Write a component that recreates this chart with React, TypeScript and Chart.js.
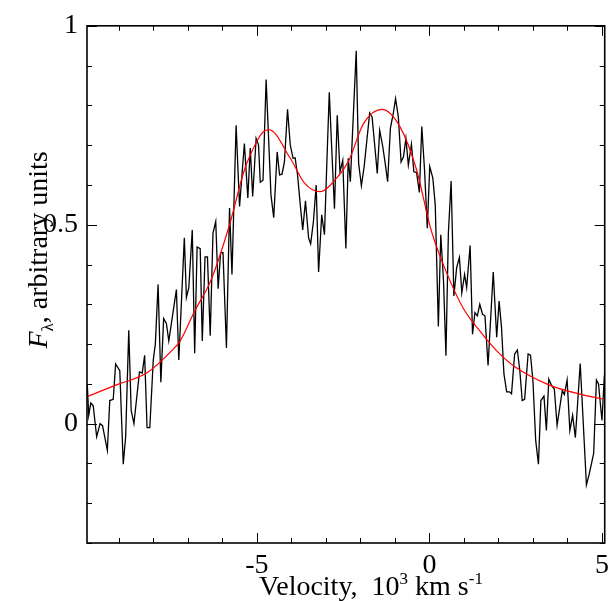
import React, { useEffect, useRef } from "react";
import { Chart, registerables } from "chart.js";

Chart.register(...registerables);

// Observed line profile: velocity (10^3 km/s) and flux (arbitrary units)
const velocity = [
  -9.91, -9.87, -9.81, -9.74, -9.64, -9.54, -9.47, -9.33, -9.26, -9.16,
  -9.09, -8.97, -8.87, -8.8, -8.71, -8.64, -8.56, -8.4, -8.32, -8.25,
  -8.18, -8.1, -8.0, -7.94, -7.86, -7.78, -7.7, -7.62, -7.55, -7.33,
  -7.26, -7.1, -7.04, -6.97, -6.87, -6.8, -6.73, -6.64, -6.58, -6.5,
  -6.43, -6.35, -6.27, -6.19, -6.12, -6.05, -5.98, -5.88, -5.79, -5.72,
  -5.6, -5.5, -5.36, -5.26, -5.19, -5.12, -5.02, -4.95, -4.9, -4.82,
  -4.73, -4.59, -4.51, -4.41, -4.34, -4.27, -4.2, -4.11, -4.03, -3.95,
  -3.89, -3.82, -3.74, -3.67, -3.59, -3.5, -3.44, -3.36, -3.28, -3.21,
  -3.12, -3.04, -2.97, -2.9, -2.83, -2.75, -2.67, -2.59, -2.51, -2.42,
  -2.35, -2.29, -2.12, -2.05, -1.97, -1.89, -1.73, -1.66, -1.58, -1.51,
  -1.44, -1.35, -1.28, -1.21, -1.13, -1.04, -0.98, -0.9, -0.82, -0.75,
  -0.68, -0.61, -0.52, -0.45, -0.37, -0.29, -0.22, -0.14, -0.06, 0.01,
  0.1, 0.17, 0.26, 0.33, 0.41, 0.48, 0.55, 0.63, 0.71, 0.79,
  0.87, 0.94, 1.02, 1.08, 1.18, 1.25, 1.32, 1.39, 1.46, 1.54,
  1.61, 1.7, 1.85, 1.95, 2.02, 2.09, 2.16, 2.24, 2.32, 2.38,
  2.47, 2.55, 2.62, 2.69, 2.76, 2.86, 2.93, 3.0, 3.08, 3.16,
  3.23, 3.32, 3.39, 3.46, 3.54, 3.62, 3.7, 3.85, 3.91, 3.99,
  4.07, 4.15, 4.23, 4.37, 4.55, 4.63, 4.76, 4.84, 4.9, 5.0,
  5.07,
];
const flux = [
  0.096, 0.021, 0.052, 0.045, -0.033, 0.0, -0.005, -0.067, 0.058, 0.061,
  0.15, 0.133, -0.102, -0.033, 0.235, 0.033, 0.0, 0.13, 0.127, 0.172,
  -0.01, -0.01, 0.16, 0.2, 0.35, 0.104, 0.264, 0.252, 0.208, 0.337,
  0.16, 0.467, 0.317, 0.342, 0.487, 0.177, 0.444, 0.44, 0.208, 0.419,
  0.419, 0.221, 0.479, 0.508, 0.339, 0.429, 0.43, 0.19, 0.542, 0.375,
  0.75, 0.546, 0.704, 0.567, 0.693, 0.571, 0.717, 0.7, 0.607, 0.612,
  0.865, 0.575, 0.518, 0.683, 0.625, 0.627, 0.658, 0.79, 0.7, 0.667,
  0.668, 0.625, 0.55, 0.487, 0.56, 0.467, 0.452, 0.508, 0.6, 0.381,
  0.525, 0.475, 0.658, 0.833, 0.692, 0.54, 0.775, 0.633, 0.662, 0.44,
  0.667, 0.608, 0.937, 0.654, 0.598, 0.646, 0.781, 0.771, 0.696, 0.629,
  0.737, 0.696, 0.654, 0.608, 0.742, 0.783, 0.817, 0.771, 0.658, 0.671,
  0.717, 0.65, 0.702, 0.633, 0.631, 0.581, 0.747, 0.637, 0.491, 0.646,
  0.617, 0.55, 0.244, 0.475, 0.358, 0.171, 0.479, 0.61, 0.321, 0.392,
  0.418, 0.329, 0.375, 0.342, 0.448, 0.225, 0.279, 0.271, 0.3, 0.275,
  0.271, 0.146, 0.381, 0.217, 0.308, 0.242, 0.125, 0.08, 0.08, 0.075,
  0.175, 0.185, 0.133, 0.058, 0.061, 0.175, 0.172, 0.108, -0.042, -0.102,
  0.058, 0.069, -0.017, 0.112, 0.096, 0.087, -0.004, 0.083, 0.073, 0.11,
  -0.017, 0.021, -0.035, 0.151, -0.154, -0.127, -0.075, 0.11, 0.1, 0.008,
  0.121,
];

// Two-component model profile
const fitVelocity = [
  -9.92, -9.05, -8.18, -7.47, -7.22, -6.8, -6.32, -5.79, -5.36, -4.99,
  -4.82, -4.65, -4.03, -3.61, -3.17, -2.69, -2.34, -1.91, -1.38, -0.85,
  -0.37, 0.02, 0.17, 0.5, 0.98, 1.46, 1.95, 2.5, 3.46, 4.42, 5.08,
];
const fitFlux = [
  0.068, 0.098, 0.128, 0.183, 0.208, 0.283, 0.3625, 0.5, 0.6375, 0.711,
  0.733, 0.739, 0.667, 0.604, 0.583, 0.617, 0.66, 0.754, 0.79, 0.746,
  0.6375, 0.496, 0.454, 0.379, 0.29, 0.233, 0.183, 0.1415, 0.0975, 0.073, 0.061,
];

const xTickValues = [-5, 0, 5];
const yTickValues = [0, 0.5, 1];
const X_MIN = -9.92;
const X_MAX = 5.08;
const Y_MIN = -0.3;
const Y_MAX = 1.0;

const SERIF = "'Liberation Serif', 'Times New Roman', serif";
const FONT_SIZE = 28;

const frameAndTicks = {
  id: "frameAndTicks",
  afterDatasetsDraw(chart: any) {
    const { ctx, chartArea, scales } = chart;
    const { left, right, top, bottom } = chartArea;
    const xs = scales.x;
    const ys = scales.y;
    ctx.save();
    ctx.strokeStyle = "#000";
    ctx.lineWidth = 1;
    ctx.beginPath();
    for (let v = Math.ceil(X_MIN); v <= X_MAX + 1e-9; v += 1) {
      const px = Math.round(xs.getPixelForValue(v)) + 0.5;
      const len = xTickValues.includes(v) ? 10 : 5;
      ctx.moveTo(px, bottom);
      ctx.lineTo(px, bottom - len);
      ctx.moveTo(px, top);
      ctx.lineTo(px, top + len);
    }
    for (let k = Math.round(Y_MIN * 10); k <= Math.round(Y_MAX * 10); k++) {
      const v = k / 10;
      const py = Math.round(ys.getPixelForValue(v)) + 0.5;
      const major = yTickValues.some((t) => Math.abs(t - v) < 1e-9);
      const len = major ? 10 : 5;
      ctx.moveTo(left, py);
      ctx.lineTo(left + len, py);
      ctx.moveTo(right, py);
      ctx.lineTo(right - len, py);
    }
    ctx.stroke();
    ctx.lineWidth = 1.6;
    ctx.strokeRect(left, top, right - left, bottom - top);
    ctx.restore();
  },
};

const axisTitles = {
  id: "axisTitles",
  afterDraw(chart: any) {
    const { ctx } = chart;
    ctx.save();
    ctx.fillStyle = "#000";
    ctx.textBaseline = "alphabetic";

    // x-axis title with superscripts
    const big = `${FONT_SIZE}px ${SERIF}`;
    const small = `${Math.round(FONT_SIZE * 0.62)}px ${SERIF}`;
    const parts: [string, string, number][] = [
      ["Velocity,  10", big, 0],
      ["3", small, -11],
      [" km s", big, 0],
      ["-1", small, -11],
    ];
    let total = 0;
    for (const [t, f] of parts) {
      ctx.font = f;
      total += ctx.measureText(t).width;
    }
    let x = 371 - total / 2;
    const baseY = 595;
    for (const [t, f, dy] of parts) {
      ctx.font = f;
      ctx.fillText(t, x, baseY + dy);
      x += ctx.measureText(t).width;
    }

    // y-axis title: italic F with subscript lambda
    ctx.translate(47, 250);
    ctx.rotate(-Math.PI / 2);
    const yParts: [string, string, number][] = [
      ["F", `italic ${FONT_SIZE}px ${SERIF}`, 0],
      ["λ", `${Math.round(FONT_SIZE * 0.62)}px ${SERIF}`, 6],
      [", arbitrary units", big, 0],
    ];
    let yTotal = 0;
    for (const [t, f] of yParts) {
      ctx.font = f;
      yTotal += ctx.measureText(t).width;
    }
    let yx = -yTotal / 2;
    for (const [t, f, dy] of yParts) {
      ctx.font = f;
      ctx.fillText(t, yx, dy);
      yx += ctx.measureText(t).width;
    }
    ctx.restore();
  },
};

export default function App() {
  const canvasRef = useRef<HTMLCanvasElement | null>(null);

  useEffect(() => {
    const canvas = canvasRef.current;
    if (!canvas) return;
    const chart = new Chart(canvas, {
      type: "line",
      data: {
        datasets: [
          {
            label: "model",
            data: fitVelocity.map((v, i) => ({ x: v, y: fitFlux[i] })),
            borderColor: "#ff0000",
            borderWidth: 1.2,
            pointRadius: 0,
            cubicInterpolationMode: "monotone",
            fill: false,
            order: 0,
          },
          {
            label: "observed",
            data: velocity.map((v, i) => ({ x: v, y: flux[i] })),
            borderColor: "#000000",
            borderWidth: 1.3,
            pointRadius: 0,
            tension: 0,
            fill: false,
            order: 1,
          },
        ],
      },
      options: {
        responsive: false,
        animation: false,
        devicePixelRatio: 1,
        layout: { padding: { top: 23, right: 7.5, left: 0, bottom: 0 } },
        plugins: {
          legend: { display: false },
          tooltip: { enabled: false },
          title: { display: false },
        },
        scales: {
          x: {
            type: "linear",
            min: X_MIN,
            max: X_MAX,
            grid: { display: false, drawTicks: false },
            border: { display: false },
            afterBuildTicks: (s: any) => {
              s.ticks = xTickValues.map((v) => ({ value: v }));
            },
            afterFit: (s: any) => {
              s.height = 58;
            },
            ticks: {
              color: "#000",
              font: { family: SERIF, size: FONT_SIZE },
              padding: 6,
              maxRotation: 0,
              autoSkip: false,
              callback: (v: any) => String(v),
            },
          },
          y: {
            type: "linear",
            min: Y_MIN,
            max: Y_MAX,
            grid: { display: false, drawTicks: false },
            border: { display: false },
            afterBuildTicks: (s: any) => {
              s.ticks = yTickValues.map((v) => ({ value: v }));
            },
            afterFit: (s: any) => {
              s.width = 87;
            },
            ticks: {
              color: "#000",
              font: { family: SERIF, size: FONT_SIZE },
              padding: 9,
              autoSkip: false,
              callback: (v: any) => String(v),
            },
          },
        },
      },
      plugins: [frameAndTicks, axisTitles],
    });
    return () => chart.destroy();
  }, []);

  return (
    <div style={{ position: "absolute", left: 0, top: 0, width: 615, height: 601, background: "#fff" }}>
      <canvas ref={canvasRef} width={615} height={601} style={{ display: "block" }} />
    </div>
  );
}
